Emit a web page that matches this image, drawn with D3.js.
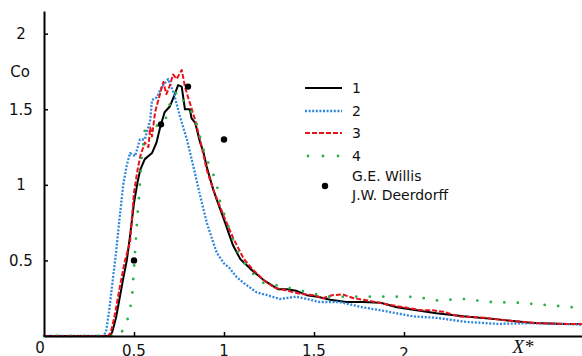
<!DOCTYPE html>
<html><head><meta charset="utf-8">
<script src="https://cdn.jsdelivr.net/npm/d3@7"></script>
<style>body{margin:0;background:#fff}svg{display:block;font-family:"DejaVu Sans",sans-serif}</style>
</head><body><svg id="c" width="582" height="356"></svg>
<script>
// Series 1 (black solid)
const x1=[0,0.367,0.38,0.40,0.42,0.44,0.46,0.48,0.50,0.52,0.535,0.56,0.60,0.625,0.645,0.67,0.70,0.73,0.745,0.765,0.783,0.81,0.82,0.84,0.867,0.885,0.904,0.94,0.96,1.00,1.05,1.09,1.16,1.22,1.26,1.30,1.35,1.40,1.46,1.52,1.59,1.68,1.77,1.87,1.96,2.07,2.18,2.33,2.52,2.70,2.88,2.99];
const y1=[0,0,0.03,0.12,0.25,0.38,0.50,0.68,0.88,1.02,1.10,1.17,1.21,1.28,1.38,1.48,1.52,1.61,1.66,1.65,1.50,1.50,1.44,1.41,1.28,1.22,1.12,0.97,0.90,0.77,0.60,0.51,0.43,0.37,0.34,0.31,0.31,0.30,0.27,0.26,0.24,0.225,0.225,0.22,0.19,0.17,0.15,0.13,0.11,0.088,0.08,0.08];
// Series 2 (blue dotted)
const x2=[0,0.33,0.345,0.36,0.375,0.39,0.40,0.42,0.44,0.46,0.478,0.506,0.533,0.56,0.59,0.60,0.627,0.655,0.69,0.72,0.756,0.794,0.83,0.867,0.904,0.94,0.96,1.00,1.03,1.07,1.11,1.18,1.24,1.31,1.40,1.46,1.53,1.64,1.77,1.87,2.05,2.18,2.33,2.52,2.70,2.88,2.99];
const y2=[0,0,0.03,0.15,0.30,0.45,0.55,0.78,1.00,1.13,1.21,1.19,1.30,1.30,1.43,1.56,1.58,1.65,1.70,1.61,1.45,1.30,1.12,0.93,0.75,0.62,0.55,0.48,0.45,0.39,0.35,0.29,0.27,0.245,0.26,0.245,0.225,0.225,0.19,0.17,0.13,0.12,0.095,0.08,0.085,0.08,0.075];
// Series 3 (red dashed)
const x3=[0,0.355,0.37,0.39,0.41,0.43,0.45,0.478,0.50,0.52,0.535,0.56,0.58,0.59,0.60,0.617,0.644,0.663,0.68,0.70,0.717,0.737,0.765,0.783,0.80,0.811,0.839,0.867,0.904,0.94,1.00,1.05,1.11,1.16,1.22,1.28,1.35,1.42,1.50,1.55,1.60,1.66,1.72,1.80,1.90,2.00,2.10,2.16,2.22,2.30,2.45,2.60,2.75,2.90,2.99];
const y3=[0,0,0.02,0.12,0.25,0.38,0.50,0.62,0.95,1.10,1.19,1.28,1.25,1.38,1.32,1.48,1.60,1.68,1.60,1.66,1.73,1.70,1.76,1.65,1.58,1.54,1.43,1.30,1.10,0.97,0.79,0.65,0.51,0.44,0.37,0.32,0.30,0.28,0.27,0.25,0.27,0.275,0.25,0.235,0.21,0.19,0.17,0.17,0.16,0.13,0.12,0.10,0.085,0.08,0.08];
// Series 4 (green sparse dots)
const x4=[0,0.42,0.46,0.48,0.49,0.50,0.51,0.52,0.53,0.54,0.56,0.60,0.67,0.70,0.74,0.76,0.81,0.84,0.88,0.90,0.93,0.96,0.97,1.04,1.07,1.12,1.17,1.22,1.27,1.35,1.50,1.57,1.72,1.87,2.03,2.11,2.18,2.33,2.48,2.63,2.79,2.94,2.99];
const y4=[0,0,0.09,0.19,0.27,0.45,0.63,0.81,0.95,1.15,1.36,1.38,1.41,1.54,1.62,1.58,1.50,1.44,1.26,1.18,1.10,1.01,0.92,0.67,0.57,0.47,0.40,0.35,0.34,0.32,0.28,0.26,0.26,0.26,0.26,0.25,0.235,0.245,0.225,0.22,0.205,0.19,0.19];
// G.E. Willis & J.W. Deerdorff points
const willisX=[0.5,0.65,0.8,1.0];
const willisY=[0.5,1.4,1.65,1.3];
// Ticks and labels
const xTickValues=[0.5,1,1.5,2];
const xTickLabels=["0.5","1","1.5","2"];
const yTickValues=[0.5,1,1.5,2];
const yTickLabels=["0.5","1","1.5","2"];
const legendLabels=["1","2","3","4"];
const pointLegendLabels=["G.E. Willis","J.W. Deerdorff"];
const yTitle="Co", xTitle="X*", originLabel="0";

const svg=d3.select("#c");
const x=d3.scaleLinear().domain([0,3]).range([44,584]);
const y=d3.scaleLinear().domain([0,2.15]).range([336,11]);

const styles=[
  {color:"#000000",dash:null,width:2,cap:"butt"},
  {color:"#2f86dd",dash:"2,1.6",width:2.3,cap:"butt"},
  {color:"#e8141c",dash:"5,2",width:2,cap:"butt"},
  {color:"#2fae4a",dash:"0,13.5",width:2.8,cap:"round"}
];
const series=[[x1,y1],[x2,y2],[x3,y3],[x4,y4]];
const line=d3.line().x(d=>x(d[0])).y(d=>y(d[1]));
series.forEach((s,i)=>{
  const pts=s[0].map((v,j)=>[v,s[1][j]]);
  const st=styles[i];
  svg.append("path").attr("d",line(pts)).attr("fill","none")
    .attr("stroke",st.color).attr("stroke-width",st.width)
    .attr("stroke-dasharray",st.dash).attr("stroke-linecap",st.cap)
    .attr("stroke-linejoin","round");
});
svg.selectAll("circle.w").data(willisX).enter().append("circle")
  .attr("cx",d=>x(d)).attr("cy",(d,i)=>y(willisY[i])).attr("r",3.2).attr("fill","#000");

// Axes
const gx=svg.append("g").attr("transform","translate(0,336)")
  .call(d3.axisBottom(x).tickValues(xTickValues).tickSizeInner(-4).tickSizeOuter(0).tickFormat(""));
gx.select(".domain").attr("stroke-width",2);
gx.selectAll(".tick line").attr("stroke-width",1.5);
const gy=svg.append("g").attr("transform","translate(44,0)")
  .call(d3.axisLeft(y).tickValues(yTickValues).tickSizeInner(-4).tickSizeOuter(0).tickFormat(""));
gy.select(".domain").attr("stroke-width",2);
gy.selectAll(".tick line").attr("stroke-width",1.5);

svg.selectAll("text.xl").data(xTickValues).enter().append("text")
  .attr("x",d=>x(d)).attr("y",(d,i)=>i===3?359:356).attr("text-anchor","middle")
  .attr("font-size",15).attr("fill","#111").text((d,i)=>xTickLabels[i]);
svg.selectAll("text.yl").data(yTickValues).enter().append("text")
  .attr("x",21).attr("y",d=>y(d)+5.5).attr("text-anchor","middle")
  .attr("font-size",15).attr("fill","#111").text((d,i)=>yTickLabels[i]);
svg.append("text").attr("x",40).attr("y",353).attr("text-anchor","middle")
  .attr("font-size",15).attr("fill","#111").text(originLabel);
svg.append("text").attr("x",20).attr("y",77).attr("text-anchor","middle")
  .attr("font-size",15).attr("fill","#111").text(yTitle);
svg.append("text").attr("x",523).attr("y",353).attr("text-anchor","middle")
  .attr("font-family","'Liberation Serif',serif").attr("font-style","italic")
  .attr("font-size",19).attr("fill","#111").text(xTitle);

// Legend
const legY=[88,111,133,156];
legendLabels.forEach((lab,i)=>{
  const st=styles[i];
  svg.append("line").attr("x1",305).attr("x2",342).attr("y1",legY[i]).attr("y2",legY[i])
    .attr("stroke",st.color).attr("stroke-width",st.width)
    .attr("stroke-dasharray",i===3?"0,15":st.dash).attr("stroke-linecap",st.cap)
    .attr("transform",i===3?"translate(3,0)":null);
  svg.append("text").attr("x",352).attr("y",legY[i]+5).attr("font-size",14).attr("fill","#111").text(lab);
});
svg.append("circle").attr("cx",325).attr("cy",186).attr("r",3.2).attr("fill","#000");
pointLegendLabels.forEach((t,i)=>{
  svg.append("text").attr("x",352).attr("y",181+i*19).attr("font-size",14).attr("fill","#111").text(t);
});
</script></body></html>
